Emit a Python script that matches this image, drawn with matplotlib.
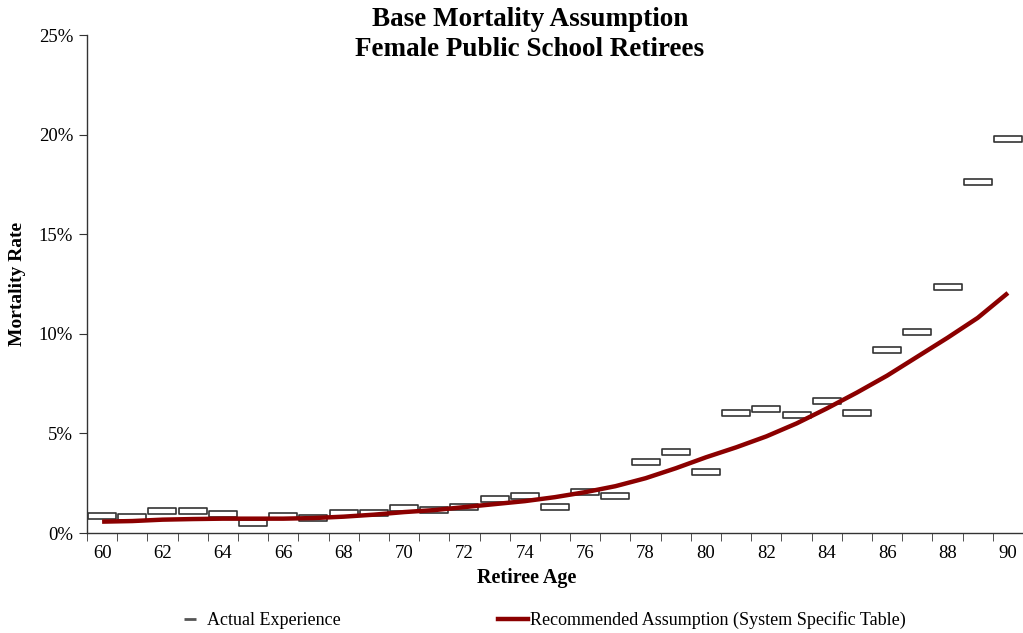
import numpy as np
import matplotlib.pyplot as plt
from matplotlib.path import Path
from matplotlib.lines import Line2D
from matplotlib.ticker import FuncFormatter

ages = list(range(60, 91))
actual = [0.85, 0.82, 1.12, 1.10, 0.95, 0.49, 0.85, 0.75, 1.00, 1.00,
          1.24, 1.17, 1.32, 1.72, 1.87, 1.32, 2.07, 1.86, 3.55, 4.08,
          3.06, 6.01, 6.21, 5.94, 6.61, 6.01, 9.17, 10.08, 12.35, 17.64,
          19.80]
recommended = [0.57, 0.60, 0.67, 0.70, 0.72, 0.72, 0.72, 0.75, 0.82, 0.92,
               1.05, 1.15, 1.30, 1.45, 1.60, 1.80, 2.05, 2.35, 2.75, 3.25,
               3.80, 4.30, 4.85, 5.50, 6.25, 7.05, 7.90, 8.85, 9.80, 10.80,
               12.05]

plt.rcParams['font.family'] = ['Liberation Serif', 'DejaVu Serif']

fig = plt.figure(figsize=(10.23, 6.33), dpi=100)
ax = fig.add_axes([87 / 1023, 1 - 533 / 633, 936 / 1023, 498 / 633])

x = np.arange(len(ages))

# flat white box marker
box = Path([(-1, -0.22), (1, -0.22), (1, 0.22), (-1, 0.22), (-1, -0.22)],
           [Path.MOVETO, Path.LINETO, Path.LINETO, Path.LINETO, Path.CLOSEPOLY])
ax.plot(x, actual, linestyle='none', marker=box, markersize=19.5,
        markerfacecolor='white', markeredgecolor='#333333',
        markeredgewidth=1.2, zorder=2, clip_on=False)
ax.plot(x, recommended, color='#8B0000', linewidth=3.2, zorder=3,
        solid_capstyle='butt', clip_on=False)

ax.set_xlim(-0.5, len(ages) - 0.5)
ax.set_ylim(0, 25)
ax.set_yticks([0, 5, 10, 15, 20, 25])
ax.yaxis.set_major_formatter(FuncFormatter(lambda v, p: f"{v:.0f}%"))

ax.set_xticks(x[::2])
ax.set_xticklabels([str(a) for a in ages[::2]])
ax.set_xticks(np.arange(-0.5, len(ages), 1), minor=True)
ax.tick_params(axis='x', which='major', length=0, pad=9, labelsize=13.5)
ax.tick_params(axis='x', which='minor', length=6, direction='out',
               color='#333333')
ax.tick_params(axis='y', length=6, direction='out', color='#333333',
               labelsize=13.5, pad=4)

for s in ['top', 'right']:
    ax.spines[s].set_visible(False)
for s in ['left', 'bottom']:
    ax.spines[s].set_color('#333333')
    ax.spines[s].set_linewidth(1.0)

ax.set_xlabel('Retiree Age', fontsize=14.5, fontweight='bold')
ax.xaxis.set_label_coords((527 - 87) / 936, -(578 - 533) / 498)
ax.set_ylabel('Mortality Rate', fontsize=14, fontweight='bold')
ax.yaxis.set_label_coords(-(87 - 18) / 936, 0.5)
ax.xaxis.label.set_va('center')
ax.yaxis.label.set_va('center')

fig.text(530 / 1023, 1 - 19 / 633, 'Base Mortality Assumption',
         ha='center', va='center', fontsize=19.5, fontweight='bold')
fig.text(530 / 1023, 1 - 49 / 633, 'Female Public School Retirees',
         ha='center', va='center', fontsize=19.5, fontweight='bold')

handles = [
    Line2D([], [], linestyle='none', marker='_', markersize=9,
           markeredgewidth=2, color='#555555'),
    Line2D([], [], color='#8B0000', linewidth=3.2),
]
fig.legend(handles, ['Actual Experience',
                     'Recommended Assumption (System Specific Table)'],
           loc='center', bbox_to_anchor=(540 / 1023, 1 - 620 / 633), ncol=2,
           frameon=False, fontsize=13, handlelength=1.7, handletextpad=0.1,
           columnspacing=8.7)

fig.savefig('out.png', dpi=100)
